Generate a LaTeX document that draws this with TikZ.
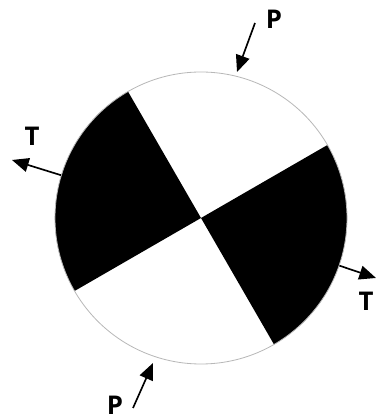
\documentclass[tikz,border=0pt]{standalone}
\usepackage{fontspec}
\setmainfont{Open Sans}
\usetikzlibrary{arrows.meta}

\begin{document}
\begin{tikzpicture}[x=0.3mm,y=0.3mm,
  rim/.style={draw=black!28,line width=0.7pt},
  axis/.style={line width=0.5mm,-{Triangle[length=5mm,width=4.2mm]}},
  lbl/.style={font=\fontsize{22}{22}\selectfont\bfseries,inner sep=0pt}]
  \useasboundingbox (0,0) rectangle (377,420);
  \coordinate (c) at (201,202);
  \fill (c) -- ++(120:146) arc[start angle=120,end angle=210,radius=146] -- cycle;
  \fill (c) -- ++(-60:146) arc[start angle=-60,end angle=30,radius=146] -- cycle;
  \node[circle,rim,minimum size=87.6mm,inner sep=0pt] (ball) at (c) {};
  \coordinate (tleft) at (12,260);
  \coordinate (tright) at (376,142);
  \coordinate (ptop) at (255,397);
  \coordinate (pbot) at (133,12);
  \coordinate (ptophead) at (237,348);
  \coordinate (pbothead) at (153,57);
  \draw[axis] (ball.163) -- (tleft);
  \draw[axis] (ball.-19) -- (tright);
  \draw[axis] (ptop) -- (ptophead);
  \draw[axis] (pbot) -- (pbothead);
  \node[lbl] (tl) at (32,284) {T};
  \node[lbl] (tr) at (366,119) {T};
  \node[lbl] (pt) at (274,401) {P};
  \node[lbl] (pb) at (115,15) {P};
\end{tikzpicture}
\end{document}
